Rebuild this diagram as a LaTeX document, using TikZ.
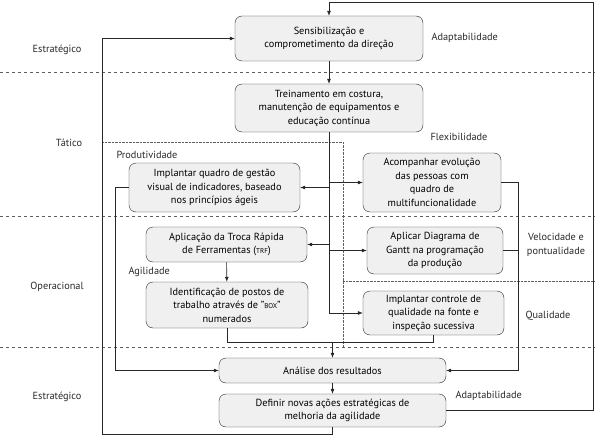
\documentclass[tikz,border=0pt]{standalone}
\usepackage{fontspec}
\setmainfont{PT Sans}
\usepackage{xcolor}
\definecolor{ink}{RGB}{40,40,40}
\definecolor{boxfill}{RGB}{240,240,240}
\definecolor{rule}{RGB}{95,95,95}
\usepackage{tikz}
\usetikzlibrary{arrows.meta, positioning, calc}

\begin{document}
\begin{tikzpicture}[
        x=1pt, y=-1pt,
        action/.style={rectangle, rounded corners=7pt, draw=ink, fill=boxfill, align=center, font=\fontsize{10.3}{13.5}\selectfont, inner sep=1pt},
        tag/.style={font=\fontsize{10.3}{13.5}\selectfont, text=ink, align=center},
        link/.style={-, ink, semithick},
        flow/.style={-{Latex[length=5pt,width=4pt]}, ink, semithick},
        level/.style={dashed, rule, thin},
        zone/.style={densely dotted, rule, thin}
    ]
        \useasboundingbox (0,0) rectangle (595,436);

        \draw[level] (0,72) -- (595,72);
        \draw[level] (0,216) -- (595,216);
        \draw[level] (0,347) -- (595,347);
        \draw[zone] (102,142) -- (343,142) -- (343,347);
        \draw[zone] (343,281) -- (595,281);

        \node[tag] (strat1) at (57,50) {Estratégico};
        \node[tag] (tatico) at (69,143) {Tático};
        \node[tag] (operac) at (57,287) {Operacional};
        \node[tag] (strat2) at (57,397) {Estratégico};

        \node[action, minimum width=188, minimum height=45] (sens) at (329,38.5) {Sensibilização e\\comprometimento da direção};
        \node[action, minimum width=188, minimum height=48] (trein) at (329,108) {Treinamento em costura,\\manutenção de equipamentos e\\educação contínua};
        \node[action, minimum width=171, minimum height=49] (quadro) at (214.5,187.5) {Implantar quadro de gestão\\visual de indicadores, baseado\\nos princípios ágeis};
        \node[action, minimum width=138, minimum height=59] (acomp) at (432,182.5) {Acompanhar evolução\\das pessoas com\\quadro de\\multifuncionalidade};
        \node[action, minimum width=161, minimum height=35] (trf) at (226.5,244.5) {Aplicação da Troca Rápida\\de Ferramentas ({\scriptsize TRF})};
        \node[action, minimum width=136, minimum height=47] (gantt) at (435,250.5) {Aplicar Diagrama de\\Gantt na programação\\da produção};
        \node[action, minimum width=162, minimum height=46] (postos) at (227,305) {Identificação de postos de\\trabalho através de "{\scriptsize BOX}"\\numerados};
        \node[action, minimum width=141, minimum height=44] (qual) at (433.5,313) {Implantar controle de\\qualidade na fonte e\\inspeção sucessiva};
        \node[action, minimum width=227, minimum height=25] (anal) at (332.5,370.5) {Análise dos resultados};
        \node[action, minimum width=227, minimum height=33] (defin) at (332.5,410.5) {Definir novas ações estratégicas de\\melhoria da agilidade};

        \node[tag, anchor=west] (adapt1) at (428,38) {Adaptabilidade};
        \node[tag, anchor=west] (flex) at (427,137) {Flexibilidade};
        \node[tag, anchor=west] (produt) at (113,155) {Produtividade};
        \node[tag, anchor=west] (agil) at (125,272) {Agilidade};
        \node[tag] (veloc) at (556,245) {Velocidade e\\pontualidade};
        \node[tag, anchor=west] (qualid) at (522,316) {Qualidade};
        \node[tag, anchor=west] (adapt2) at (452,396) {Adaptabilidade};

        \coordinate (lowleft) at (102,434);
        \coordinate (topright) at (593,2);
        \coordinate (prodbus) at (115,0);
        \coordinate (rightbus) at (518,0);
        \coordinate (merge) at (332.5,342);

        \draw[flow] (sens) -- (trein);
        \draw[link] (trein.south) -- (trein.south |- qual.west);
        \draw[flow] (trein.south |- quadro.east) -- (quadro.east);
        \draw[flow] (trein.south |- acomp.west) -- (acomp.west);
        \draw[flow] (trein.south |- trf.east) -- (trf.east);
        \draw[flow] (trein.south |- gantt.west) -- (gantt.west);
        \draw[flow] (trein.south |- qual.west) -- (qual.west);
        \draw[flow] (trf) -- (postos);

        \draw[flow] (quadro.west) -- (prodbus |- quadro.west) |- (anal.west);
        \draw[flow] (acomp.east) -- (rightbus |- acomp.east) |- (anal.east);
        \draw[link] (gantt.east) -- (rightbus |- gantt.east);

        \draw[link] (postos.south) |- (merge);
        \draw[link] (qual.south) |- (merge);
        \draw[flow] (merge) -- (anal.north);
        \draw[flow] (anal) -- (defin);

        \draw[flow] (defin.south) |- (lowleft) |- (sens.west);
        \draw[flow] (defin.east) -| (topright) -| (sens.north);
    \end{tikzpicture}
\end{document}
